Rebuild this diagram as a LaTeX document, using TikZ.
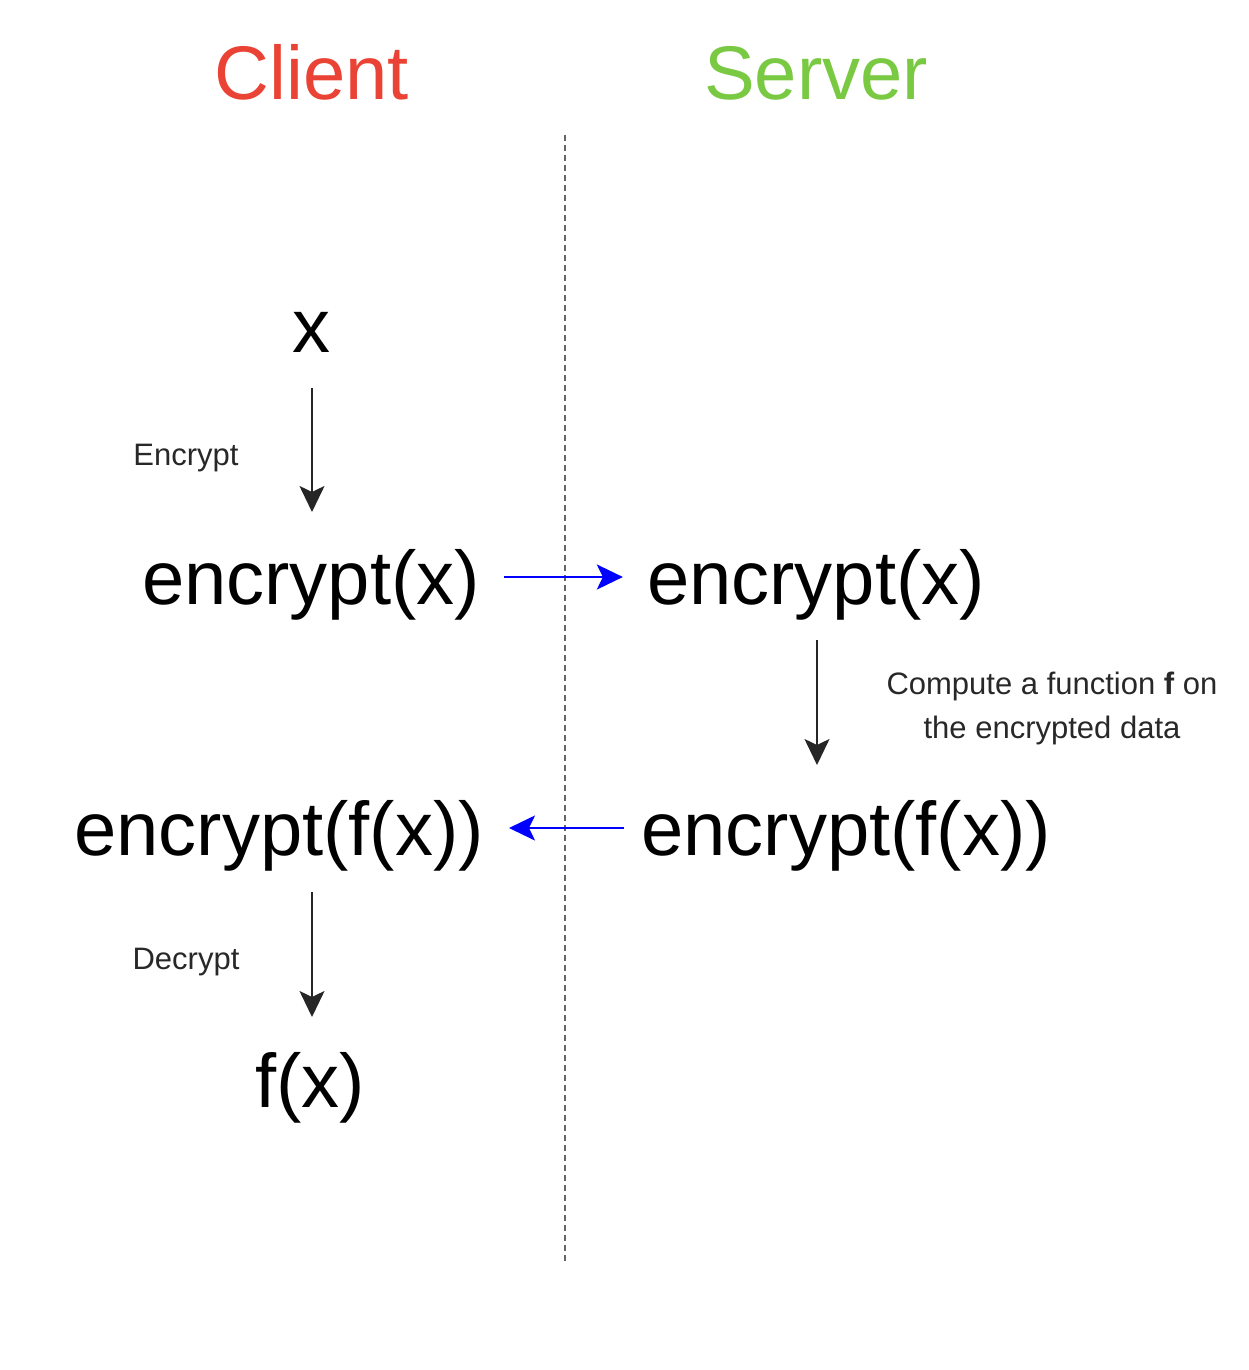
\documentclass[tikz,border=0pt]{standalone}
\usepackage{fontspec}
\setmainfont{Liberation Sans}
\usetikzlibrary{arrows.meta}
\definecolor{clientred}{RGB}{234,67,53}
\definecolor{servergreen}{RGB}{122,201,67}
\definecolor{labelgray}{RGB}{40,40,40}
\begin{document}
\begin{tikzpicture}[x=1pt,y=-1pt,
  bigtxt/.style={font=\fontsize{76}{90}\selectfont, inner sep=0pt, anchor=base},
  smalltxt/.style={font=\fontsize{31}{44}\selectfont, text=labelgray, inner sep=0pt, align=center},
  downarr/.style={draw=black!85, line width=2pt, -{Stealth[length=26pt,width=25pt,inset=6pt]}},
  bluearr/.style={draw=blue, line width=2.4pt, -{Stealth[length=26pt,width=25pt,inset=6pt]}},
  divider/.style={draw=black!60, line width=1.3pt, dash pattern=on 6pt off 4pt}]
\useasboundingbox (0,0) rectangle (1248,1370);
% headings
\node[bigtxt, text=clientred] (client) at (312,100) {Client};
\node[bigtxt, text=servergreen] (server) at (816,100) {Server};
% divider
\coordinate (dtop) at (565,135);
\coordinate (dbot) at (565,1262);
\draw[divider] (dtop) -- (dbot);
% client column
\node[bigtxt] (x) at (311,352) {x};
\node[bigtxt] (ex1) at (311,604) {encrypt(x)};
\node[bigtxt] (efx1) at (279,855) {encrypt(f(x))};
\node[bigtxt] (fx) at (310,1107) {f(x)};
% server column
\node[bigtxt] (ex2) at (816,604) {encrypt(x)};
\node[bigtxt] (efx2) at (846,855) {encrypt(f(x))};
% labels
\node[smalltxt, anchor=base] (enc) at (186,465) {Encrypt};
\node[smalltxt, anchor=base] (dec) at (186,969) {Decrypt};
\node[smalltxt] (comp) at (1052,708) {Compute a function \textbf{f} on\\the encrypted data};
% connectors
\coordinate (a1s) at (312,388);
\coordinate (a1e) at (312,512);
\draw[downarr] (a1s) -- (a1e);
\coordinate (a2s) at (817,640);
\coordinate (a2e) at (817,765);
\draw[downarr] (a2s) -- (a2e);
\coordinate (a3s) at (312,892);
\coordinate (a3e) at (312,1017);
\draw[downarr] (a3s) -- (a3e);
\draw[bluearr] ([xshift=24pt,yshift=27pt]ex1.base east) -- ([xshift=-24pt,yshift=27pt]ex2.base west);
\draw[bluearr] ([xshift=-17pt,yshift=27pt]efx2.base west) -- ([xshift=25pt,yshift=27pt]efx1.base east);
\end{tikzpicture}
\end{document}
